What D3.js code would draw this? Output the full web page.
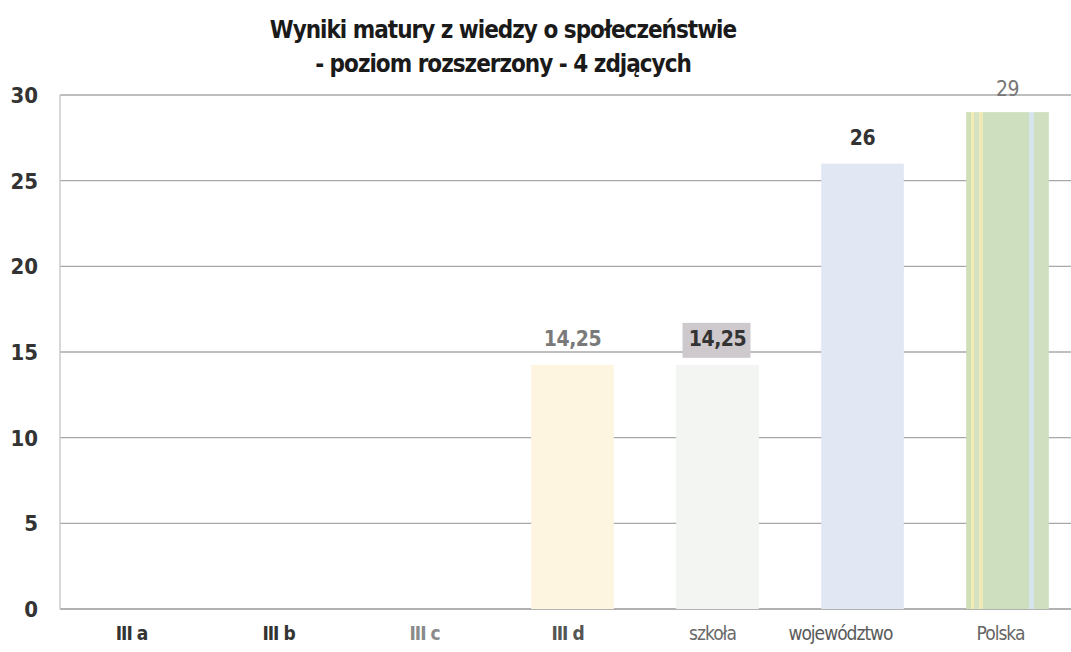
<!DOCTYPE html>
<html>
<head>
<meta charset="utf-8">
<script src="https://cdn.jsdelivr.net/npm/d3@7"></script>
<style>
  body { margin: 0; background: #fff; }
  svg { display: block; font-family: "Liberation Sans Narrow", "DejaVu Sans Condensed", sans-serif; }
</style>
</head>
<body>
<svg id="chart" width="1071" height="652"></svg>
<script>
// dane
var categories = ["III a", "III b", "III c", "III d", "szkoła", "województwo", "Polska"];
var values = [0, 0, 0, 14.25, 14.25, 26, 29];
var valueLabels = ["", "", "", "14,25", "14,25", "26", "29"];
var yTicks = [0, 5, 10, 15, 20, 25, 30];
var titleLines = ["Wyniki matury z wiedzy o społeczeństwie", "- poziom rozszerzony - 4 zdjących"];

// kolory slupkow i etykiet
var barColors = ["#fdf6e0", "#fdf6e0", "#fdf6e0", "#fdf5df", "#f2f5f2", "#e1e7f3", "url(#polskaFill)"];
var catColors = ["#333", "#333", "#8a8a8a", "#555", "#6a6a6a", "#5a5a5a", "#666"];
var labelColors = ["#777", "#777", "#777", "#7a7a7a", "#333", "#333", "#777"];
// przesuniecie etykiet kategorii (jak w oryginale)
var catShift = [-6, -4, -3, -5, -5, -22, -7];

var svg = d3.select("#chart");

var x = d3.scaleBand()
  .domain(categories)
  .range([65, 1080])
  .paddingInner(0.43)
  .paddingOuter(0.215);

var y = d3.scaleLinear()
  .domain([0, 30])
  .range([609, 95]);

// paski na slupku "Polska"
var grad = svg.append("defs").append("linearGradient")
  .attr("id", "polskaFill")
  .attr("x1", "0").attr("x2", "1").attr("y1", "0").attr("y2", "0");
[[0, "#cfe0b8"], [0.06, "#cfe0b8"], [0.06, "#f1ecb4"], [0.1, "#f1ecb4"], [0.1, "#d6e3c2"],
 [0.16, "#d6e3c2"], [0.16, "#efe9b6"], [0.2, "#efe9b6"], [0.2, "#cddfbf"],
 [0.76, "#cddfbf"], [0.76, "#d6e4ee"], [0.82, "#d6e4ee"], [0.82, "#cfdfc0"], [1, "#cfdfc0"]]
  .forEach(s => grad.append("stop").attr("offset", s[0]).attr("stop-color", s[1]));

// linie siatki
svg.append("g")
  .selectAll("line")
  .data(yTicks)
  .join("line")
    .attr("x1", 60).attr("x2", 1071)
    .attr("y1", d => y(d)).attr("y2", d => y(d))
    .attr("stroke", d => d == 0 ? "#999" : "#a8a8a8")
    .attr("stroke-width", 1.3);

// os pionowa
svg.append("line")
  .attr("x1", 60).attr("x2", 60)
  .attr("y1", y(30)).attr("y2", y(0))
  .attr("stroke", "#c4c4c4")
  .attr("stroke-width", 1.3);

// etykiety osi Y
svg.append("g")
  .selectAll("text")
  .data(yTicks)
  .join("text")
    .attr("x", 38)
    .attr("y", d => y(d) + 8)
    .attr("text-anchor", "end")
    .attr("font-size", 22)
    .attr("font-weight", "bold")
    .attr("fill", "#333")
    .text(d => d);

// slupki
svg.append("g")
  .selectAll("rect")
  .data(values)
  .join("rect")
    .attr("x", (d, i) => x(categories[i]))
    .attr("y", d => y(d))
    .attr("width", x.bandwidth())
    .attr("height", d => y(0) - y(d))
    .attr("fill", (d, i) => barColors[i]);

// tlo etykiety "szkoła"
var si = categories.indexOf("szkoła");
svg.append("rect")
  .attr("x", x("szkoła") + x.bandwidth() / 2 - 35)
  .attr("y", y(values[si]) - 42)
  .attr("width", 68)
  .attr("height", 35)
  .attr("fill", "#cdc9cd");

// etykiety wartosci
svg.append("g")
  .selectAll("text")
  .data(values)
  .join("text")
    .attr("x", (d, i) => x(categories[i]) + x.bandwidth() / 2)
    .attr("y", (d, i) => y(d) - (i == 6 ? 16 : 19))
    .attr("text-anchor", "middle")
    .attr("font-size", 21)
    .attr("font-weight", (d, i) => i == 6 ? "normal" : "bold")
    .attr("letter-spacing", -0.5)
    .attr("fill", (d, i) => labelColors[i])
    .text((d, i) => valueLabels[i]);

// etykiety kategorii
svg.append("g")
  .selectAll("text")
  .data(categories)
  .join("text")
    .attr("x", (d, i) => x(d) + x.bandwidth() / 2 + catShift[i])
    .attr("y", 640)
    .attr("text-anchor", "middle")
    .attr("font-size", 19)
    .attr("letter-spacing", -1)
    .attr("font-weight", (d, i) => i < 4 ? "bold" : "normal")
    .attr("fill", (d, i) => catColors[i])
    .text(d => d);

// tytul
svg.append("g")
  .selectAll("text")
  .data(titleLines)
  .join("text")
    .attr("x", 503)
    .attr("y", (d, i) => 38 + i * 34)
    .attr("text-anchor", "middle")
    .attr("font-size", 24)
    .attr("letter-spacing", -1)
    .attr("font-weight", "bold")
    .attr("fill", "#1a1a1a")
    .text(d => d);
</script>
</body>
</html>
